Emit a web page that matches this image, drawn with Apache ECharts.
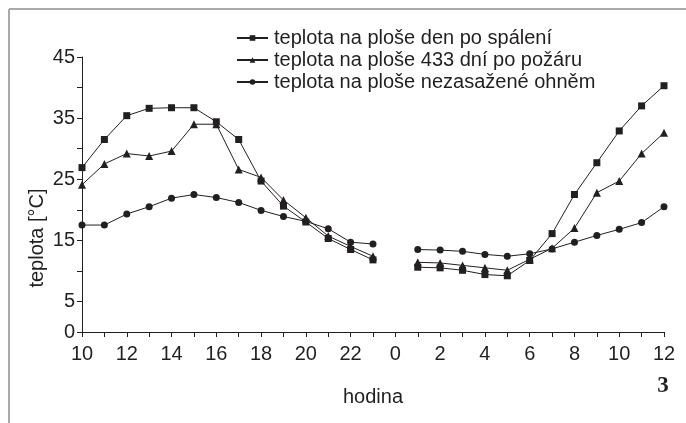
<!DOCTYPE html>
<html>
<head>
<meta charset="utf-8">
<script src="https://cdn.jsdelivr.net/npm/echarts@6/dist/echarts.min.js"></script>
<style>
  html, body { margin: 0; padding: 0; background: #fff; }
  #myChart { width: 686px; height: 423px; }
</style>
</head>
<body>
<div id="myChart"></div>
<script>
// hodiny: 10..23, pulnoc (bez mereni), 1..12
var hours = ["10", "11", "12", "13", "14", "15", "16", "17", "18", "19", "20", "21", "22", "23",
  "0", "1", "2", "3", "4", "5", "6", "7", "8", "9", "10", "11", "12"];

var denPoSpaleni = [26.9, 31.5, 35.4, 36.6, 36.7, 36.7, 34.4, 31.5, 24.7, 20.6, 18.0, 15.3, 13.5, 11.8,
  null, 10.6, 10.5, 10.1, 9.4, 9.2, 11.7, 16.1, 22.5, 27.7, 32.9, 37.0, 40.3];
var dni433 = [24.1, 27.5, 29.2, 28.8, 29.6, 34.0, 34.0, 26.6, 25.3, 21.6, 18.7, 15.7, 14.0, 12.4,
  null, 11.4, 11.3, 10.9, 10.5, 10.1, 11.9, 13.7, 17.0, 22.8, 24.7, 29.2, 32.6];
var nezasazene = [17.5, 17.5, 19.3, 20.5, 21.9, 22.5, 22.0, 21.2, 19.9, 18.9, 18.1, 16.9, 14.7, 14.4,
  null, 13.5, 13.4, 13.2, 12.7, 12.4, 12.8, 13.6, 14.7, 15.8, 16.8, 17.9, 20.5];

var yLabels = [0, 5, 15, 25, 35, 45];

var font = '"Liberation Sans", Arial, sans-serif';
var ink = "#231f20";

var myChart = echarts.init(document.getElementById("myChart"));
var option = {
  animation: false,
  textStyle: { fontFamily: font, color: ink },
  grid: { left: 82, right: 22, top: 57, bottom: 91, containLabel: false },
  legend: {
    orient: "vertical",
    left: 231,
    top: 23,
    itemWidth: 31,
    itemHeight: 7,
    itemGap: 2,
    textStyle: { fontFamily: font, fontSize: 20, color: ink, padding: [0, 0, 0, 1] },
    data: [
      "teplota na ploše den po spálení",
      "teplota na ploše 433 dní po požáru",
      "teplota na ploše nezasažené ohněm",
    ],
  },
  xAxis: {
    type: "category",
    data: hours,
    boundaryGap: false,
    name: "hodina",
    nameLocation: "middle",
    nameGap: 55,
    nameTextStyle: { fontFamily: font, fontSize: 20, color: ink },
    axisLine: { lineStyle: { color: ink, width: 1 } },
    axisTick: { interval: 0, length: 5, lineStyle: { color: ink } },
    axisLabel: { interval: 1, fontSize: 20, color: ink, margin: 12 },
    splitLine: { show: false },
  },
  yAxis: {
    type: "value",
    min: 0,
    max: 45,
    interval: 5,
    axisLine: { show: true, lineStyle: { color: ink, width: 1 } },
    axisTick: { show: true, length: 5, lineStyle: { color: ink } },
    axisLabel: {
      fontSize: 20,
      color: ink,
      margin: 7,
      formatter: function (v) {
        return yLabels.indexOf(v) >= 0 ? String(v) : "";
      },
    },
    splitLine: { show: false },
  },
  graphic: [
    { type: "line", shape: { x1: 9, y1: 9, x2: 686, y2: 9 }, style: { stroke: "#aaaaaa", lineWidth: 2 } },
    { type: "line", shape: { x1: 9, y1: 9, x2: 9, y2: 423 }, style: { stroke: "#aaaaaa", lineWidth: 2 } },
    {
      type: "text",
      x: 37,
      y: 238,
      rotation: Math.PI / 2,
      style: { text: "teplota [°C]", fontFamily: font, fontSize: 20, fill: ink, textAlign: "center", textVerticalAlign: "middle" },
    },
    {
      type: "text",
      x: 663,
      y: 386,
      style: { text: "3", fontFamily: '"Liberation Serif", "DejaVu Serif", serif', fontWeight: "bold", fontSize: 23, fill: ink, textAlign: "center", textVerticalAlign: "middle" },
    },
  ],
  series: [
    {
      name: "teplota na ploše den po spálení",
      type: "line",
      data: denPoSpaleni,
      symbol: "rect",
      symbolSize: 7,
      connectNulls: false,
      lineStyle: { color: ink, width: 1 },
      itemStyle: { color: ink },
    },
    {
      name: "teplota na ploše 433 dní po požáru",
      type: "line",
      data: dni433,
      symbol: "triangle",
      symbolSize: 8,
      connectNulls: false,
      lineStyle: { color: ink, width: 1 },
      itemStyle: { color: ink },
    },
    {
      name: "teplota na ploše nezasažené ohněm",
      type: "line",
      data: nezasazene,
      symbol: "circle",
      symbolSize: 7,
      connectNulls: false,
      lineStyle: { color: ink, width: 1 },
      itemStyle: { color: ink },
    },
  ],
};
myChart.setOption(option);
</script>
</body>
</html>
